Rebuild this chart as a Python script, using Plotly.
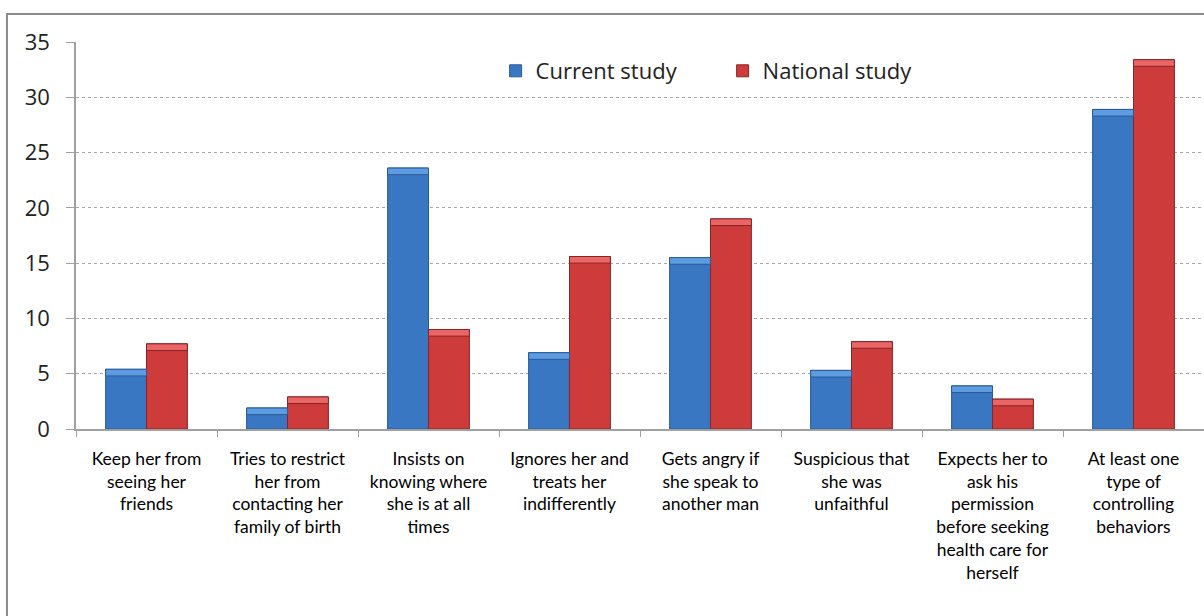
import plotly.graph_objects as go

categories = [
    "Keep her from<br>seeing her<br>friends",
    "Tries to restrict<br>her from<br>contacting her<br>family of birth",
    "Insists on<br>knowing where<br>she is at all<br>times",
    "Ignores her and<br>treats her<br>indifferently",
    "Gets angry if<br>she speak to<br>another man",
    "Suspicious that<br>she was<br>unfaithful",
    "Expects her to<br>ask his<br>permission<br>before seeking<br>health care for<br>herself",
    "At least one<br>type of<br>controlling<br>behaviors",
]
current_study = [5.4, 1.9, 23.6, 6.9, 15.5, 5.3, 3.9, 28.9]
national_study = [7.7, 2.9, 9.0, 15.6, 19.0, 7.9, 2.7, 33.4]
y_ticks = [0, 5, 10, 15, 20, 25, 30, 35]

CAP = 0.6  # height of the bevel highlight at the top of each bar

series = [
    ("Current study", current_study, "#3A77C2", "#2A5A94", "#5E9CE2"),
    ("National study", national_study, "#CD3B3B", "#8A2424", "#EA6666"),
]

fig = go.Figure()
for name, vals, fill, edge, light in series:
    fig.add_trace(go.Bar(
        x=categories, y=vals, name=name, offsetgroup=name,
        marker=dict(color=fill, line=dict(color=edge, width=1)),
    ))
for name, vals, fill, edge, light in series:
    fig.add_trace(go.Bar(
        x=categories, y=[CAP] * len(vals), base=[v - CAP for v in vals],
        offsetgroup=name, showlegend=False, hoverinfo="skip",
        marker=dict(color=light, line=dict(color=edge, width=1)),
    ))

fig.update_layout(
    width=1204, height=616,
    margin=dict(l=76, r=0, t=42, b=187),
    paper_bgcolor="white", plot_bgcolor="white",
    barmode="group", bargap=0.42, bargroupgap=0,
    font=dict(family="Open Sans", color="#222"),
    legend=dict(
        orientation="h", x=0.372, y=0.925, xanchor="left", yanchor="middle",
        font=dict(size=22, color="#222"), bgcolor="rgba(0,0,0,0)",
        entrywidth=182, entrywidthmode="pixels",
    ),
    xaxis=dict(
        showline=True, linecolor="#A0A0A0", linewidth=1.5,
        ticks="outside", tickson="boundaries", ticklen=6, tickcolor="#A0A0A0",
        tickfont=dict(family="Lato", size=17.5, color="#000"),
        ticklabelstandoff=13, range=[-0.5, 7.5], tickangle=0,
    ),
    yaxis=dict(
        range=[0, 35], tickvals=y_ticks, showline=True, linecolor="#A0A0A0",
        linewidth=1.5, ticks="outside", ticklen=8, tickcolor="#A0A0A0",
        ticklabelstandoff=12,
        tickfont=dict(family="Open Sans", size=22, color="#222"),
        showgrid=True, gridcolor="#A8A8A8", griddash="dot", gridwidth=1,
        zeroline=False,
    ),
    shapes=[dict(
        type="rect", xref="paper", yref="paper",
        x0=-0.0612, x1=1.2, y0=-1.0, y1=1.0723,
        line=dict(color="#8C8C8C", width=2), fillcolor="rgba(0,0,0,0)",
        layer="below",
    )],
)

fig.write_html("out.html")
